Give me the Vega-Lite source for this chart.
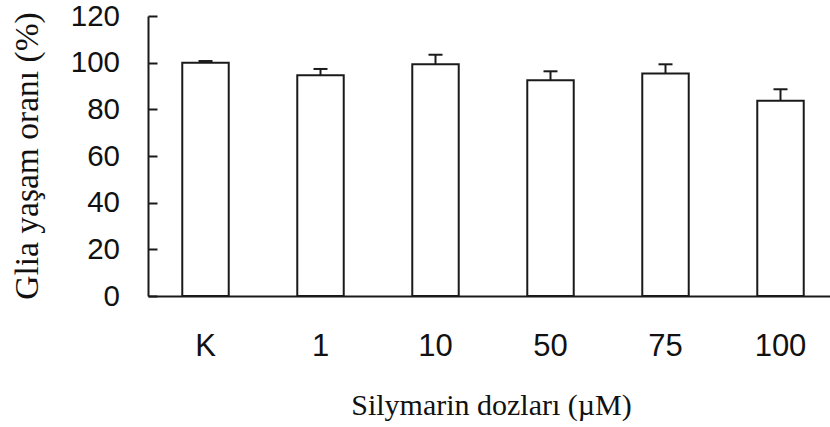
{
  "$schema": "https://vega.github.io/schema/vega-lite/v6.json",
  "autosize": {"type": "none"},
  "padding": {"left": 148, "top": 16, "right": 0, "bottom": 131},
  "width": 682,
  "height": 280,
  "background": "white",
  "data": {
    "values": [
      {"dose": "K", "value": 100, "upper": 100.7},
      {"dose": "1", "value": 94.6, "upper": 97.3},
      {"dose": "10", "value": 99.3, "upper": 103.4},
      {"dose": "50", "value": 92.5, "upper": 96.3},
      {"dose": "75", "value": 95.4, "upper": 99.3},
      {"dose": "100", "value": 83.7, "upper": 88.6}
    ]
  },
  "encoding": {
    "x": {
      "field": "dose",
      "type": "nominal",
      "sort": null,
      "scale": {"range": [0, 690], "paddingInner": 0.596, "paddingOuter": 0.298},
      "axis": {
        "title": "Silymarin dozları (µM)",
        "labelAngle": 0,
        "ticks": false,
        "domainColor": "#1a1a1a",
        "domainWidth": 2,
        "labelFont": "Liberation Sans",
        "labelFontSize": 31,
        "labelColor": "#111111",
        "labelPadding": 35,
        "titleFont": "Liberation Serif",
        "titleFontSize": 30,
        "titleFontWeight": "normal",
        "titleColor": "#111111",
        "titleBaseline": "alphabetic",
        "titleAlign": "center",
        "titleX": 343,
        "titleY": 118.5
      }
    }
  },
  "layer": [
    {
      "mark": {"type": "bar", "fill": "white", "stroke": "#1a1a1a", "strokeWidth": 2},
      "encoding": {
        "y": {
          "field": "value",
          "type": "quantitative",
          "title": "Glia yaşam oranı (%)",
          "scale": {"domain": [0, 120]},
          "axis": {
            "title": "Glia yaşam oranı (%)",
            "values": [0, 20, 40, 60, 80, 100, 120],
            "grid": false,
            "domainColor": "#1a1a1a",
            "domainWidth": 2,
            "tickColor": "#1a1a1a",
            "tickWidth": 2,
            "tickSize": -9,
            "labelFont": "Liberation Sans",
            "labelFontSize": 29.5,
            "labelColor": "#111111",
            "labelPadding": 37.5,
            "titleFont": "Liberation Serif",
            "titleFontSize": 33.5,
            "titleFontWeight": "normal",
            "titleColor": "#111111",
            "titleAngle": 270,
            "titleBaseline": "alphabetic",
            "titleAlign": "center",
            "titleX": -111,
            "titleY": 139.5
          }
        }
      }
    },
    {
      "mark": {"type": "rule", "stroke": "#1a1a1a", "strokeWidth": 2},
      "encoding": {
        "y": {"field": "value", "type": "quantitative", "title": "Glia yaşam oranı (%)"},
        "y2": {"field": "upper"}
      }
    },
    {
      "mark": {"type": "tick", "color": "#1a1a1a", "thickness": 2, "size": 14, "orient": "horizontal", "opacity": 1},
      "encoding": {
        "y": {"field": "upper", "type": "quantitative", "title": "Glia yaşam oranı (%)"}
      }
    }
  ],
  "config": {"view": {"stroke": null}}
}
